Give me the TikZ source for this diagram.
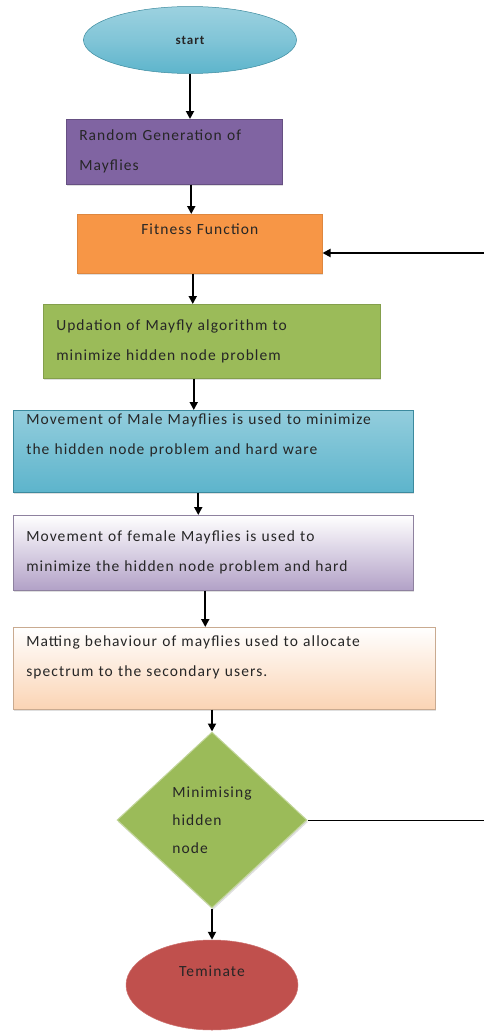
\documentclass[tikz,border=0pt]{standalone}
\usepackage{fontspec}
\setmainfont{Carlito}[LetterSpace=7]
\usetikzlibrary{shapes.geometric, arrows.meta, positioning, calc, shadows}
\definecolor{startColor}{RGB}{75, 172, 198}
\definecolor{randColor}{RGB}{128, 100, 162}
\definecolor{fitColor}{RGB}{247, 150, 70}
\definecolor{updColor}{RGB}{155, 187, 89}
\definecolor{femColor}{RGB}{178, 161, 199}
\definecolor{matColor}{RGB}{251, 212, 180}
\definecolor{termColor}{RGB}{192, 80, 77}

\begin{document}
\begin{tikzpicture}[
    x=1pt, y=-1pt,
    font=\fontsize{15.5}{30}\selectfont,
    box/.style={rectangle, draw, line width=0.5pt, anchor=north west, inner xsep=13pt, inner ysep=0pt, align=left, text=black!85,
        drop shadow={opacity=0.25, shadow xshift=1pt, shadow yshift=-2pt}},
    term/.style={ellipse, draw, line width=0.5pt, inner sep=0pt, text=black!85},
    arrow/.style={-{Triangle[length=8pt, width=8pt]}, line width=1.8pt}
]
    \useasboundingbox (0,0) rectangle (484,1036);

    % Start
    \node[term, draw=startColor!80!black, top color=startColor!55, bottom color=startColor!90, middle color=startColor!70,
        minimum width=213pt, minimum height=67pt, font=\fontsize{13}{15}\selectfont\bfseries] (start) at (190,40) {start};

    % Process boxes
    \node[box, draw=randColor!80!black, fill=randColor, text width=190pt, minimum height=65pt] (rand) at (66,119)
        {Random Generation of\\Mayflies};
    \node[box, draw=fitColor!90!black, fill=fitColor, text width=219pt, minimum height=59pt, align=center] (fit) at (77,214)
        {Fitness Function\\~};
    \node[box, draw=updColor!85!black, fill=updColor, text width=311pt, minimum height=74pt] (upd) at (43,304)
        {Updation of Mayfly algorithm to\\minimize hidden node problem};
    \node[box, draw=startColor!80!black, top color=startColor!60, bottom color=startColor!90, text width=374pt, minimum height=82pt] (male) at (13,410)
        {Movement of Male Mayflies is used to minimize\\the hidden node problem and hard ware\\[4pt]~};
    \node[box, draw=femColor!80!black, top color=white, bottom color=femColor, text width=374pt, minimum height=75pt] (fem) at (13,515)
        {Movement of female Mayflies is used to\\minimize the hidden node problem and hard};
    \node[box, draw=matColor!80!black, top color=white, bottom color=matColor, text width=396pt, minimum height=82pt] (mat) at (13,627)
        {Matting behaviour of mayflies used to allocate\\spectrum to the secondary users.\\[-6pt]~};

    % Decision
    \node[diamond, draw=updColor!60!white, line width=1pt, fill=updColor, minimum width=190pt, minimum height=176pt, inner sep=0pt,
        align=left, font=\fontsize{15.5}{28}\selectfont, text=black!85,
        drop shadow={opacity=0.25, shadow xshift=1pt, shadow yshift=-2pt}] (dec) at (212,820)
        {Minimising\\hidden\\node};

    % Terminate
    \node[term, draw=termColor!80!white, fill=termColor, minimum width=172pt, minimum height=90pt,
        label={[yshift=14pt, text=black!85]center:Teminate}] (stop) at (212,985) {};

    % Loop back
    \coordinate (back) at (484,253);
    \coordinate (edge) at (484,823);

    % Arrows
    \draw[arrow] (start.south) -- (start.south |- rand.north);
    \draw[arrow] ($(rand.south)+(17,0)$) -- ($(rand.south |- fit.north)+(17,0)$);
    \draw[arrow] ($(fit.south)+(-7,0)$) -- ($(fit.south |- upd.north)+(-7,0)$);
    \draw[arrow] ($(upd.south)+(-18,0)$) -- ($(upd.south |- male.north)+(-18,0)$);
    \draw[arrow] ($(male.south)+(-15,0)$) -- ($(male.south |- fem.north)+(-15,0)$);
    \draw[arrow] ($(fem.south)+(-8,0)$) -- ($(fem.south |- mat.north)+(-8,0)$);
    \draw[arrow] (mat.south -| dec.north) -- (dec.north);
    \draw[arrow] (dec.south) -- (stop.north);
    \draw[arrow] (back) -- (back -| fit.east);
    \draw[line width=1pt] (dec.east) -- (dec.east -| edge);

\end{tikzpicture}
\end{document}
